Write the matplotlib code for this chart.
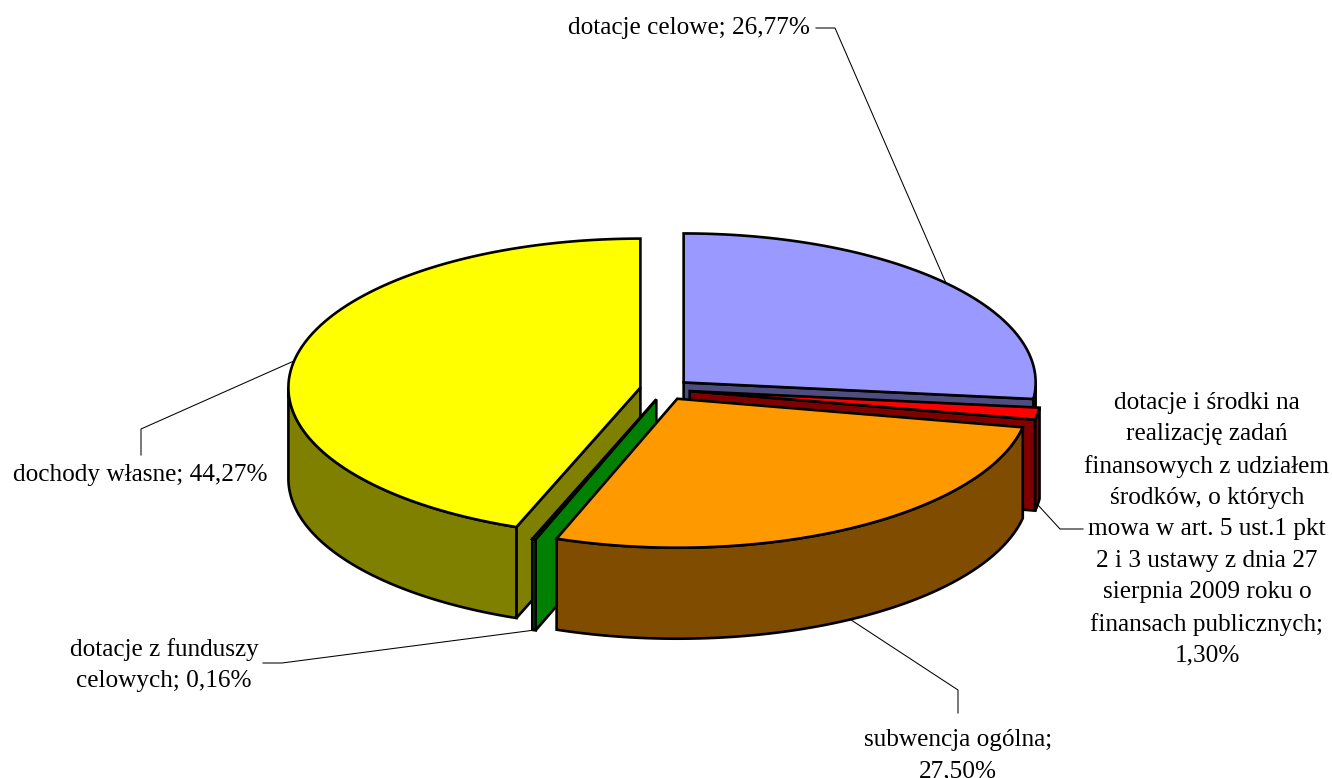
import numpy as np
import matplotlib
matplotlib.use("Agg")
import matplotlib.pyplot as plt
from matplotlib.patches import Polygon

plt.rcParams['font.family'] = ['Liberation Serif', 'DejaVu Sans']

names = ["dotacje celowe", "dotacje i środki", "subwencja ogólna", "dotacje z funduszy", "dochody własne"]
shares = [26.77, 1.30, 27.50, 0.16, 44.27]
top_colors = ["#9999FF", "#FF0000", "#FF9900", "#00FF00", "#FFFF00"]
side_colors = ["#4D4D80", "#800000", "#804D00", "#008000", "#808000"]
draw_order = [0, 4, 1, 3, 2]

labels = [
    "dotacje celowe; 26,77%",
    "dotacje i środki na\nrealizację zadań\nfinansowych z udziałem\nśrodków, o których\nmowa w art. 5 ust.1 pkt\n2 i 3 ustawy z dnia 27\nsierpnia 2009 roku o\nfinansach publicznych;\n1,30%",
    "subwencja ogólna;\n27,50%",
    "dotacje z funduszy\ncelowych; 0,16%",
    "dochody własne; 44,27%",
]

# layout in pixels
CX, CY = 665, 389.5
RX, RY = 352, 149
DEPTH = 91
EXPLODE = 25
LW = 1.9

fig = plt.figure(figsize=(13.32, 7.78), dpi=100)
ax = fig.add_axes([0, 0, 1, 1])
ax.set_xlim(0, 1332)
ax.set_ylim(778, 0)
ax.axis("off")

edges = np.cumsum([0] + shares) * 3.6
starts, ends = edges[:-1], edges[1:]
mids = (starts + ends) / 2


def apex(i):
    m = np.radians(mids[i])
    return CX + EXPLODE * np.sin(m), CY - EXPLODE * RY / RX * np.cos(m)


def rim(i, deg):
    a = np.radians(deg)
    x0, y0 = apex(i)
    return x0 + RX * np.sin(a), y0 - RY * np.cos(a)


def face(pts, color):
    ax.add_patch(Polygon(pts, closed=True, facecolor=color, edgecolor="black",
                         linewidth=LW, joinstyle="miter"))


def wall(i, deg):
    x0, y0 = apex(i)
    x1, y1 = rim(i, deg)
    face([(x0, y0), (x1, y1), (x1, y1 + DEPTH), (x0, y0 + DEPTH)], side_colors[i])


for i in draw_order:
    a0, a1 = starts[i], ends[i]
    if np.sin(np.radians(a0)) < -1e-9:
        wall(i, a0)
    if np.sin(np.radians(a1)) > 1e-9:
        wall(i, a1)
    lo, hi = max(a0, 90), min(a1, 270)
    if hi > lo:
        arc = [rim(i, d) for d in np.linspace(lo, hi, 80)]
        low = [(x, y + DEPTH) for x, y in arc[::-1]]
        face(arc + low, side_colors[i])
    arc = [rim(i, d) for d in np.linspace(a0, a1, 160)]
    face([apex(i)] + arc, top_colors[i])

# leader lines, starting from the middle of each slice's rim
x, y = rim(0, mids[0])
ax.plot([x, 835, 816], [y, 28, 28], color="black", lw=0.75)
x, y = rim(1, mids[1])
ax.plot([x, 1060, 1083], [y + DEPTH, 529, 529], color="black", lw=0.75)
x, y = rim(2, mids[2])
ax.plot([x, 958, 958], [y + DEPTH, 690, 713], color="black", lw=0.75)
x, y = rim(3, mids[3])
ax.plot([x, 282, 263], [y + DEPTH, 663, 663], color="black", lw=0.75)
x, y = rim(4, mids[4])
ax.plot([x, 141, 141], [y, 429, 455], color="black", lw=0.75)

FS = 18.2
SP = 1.54
ax.text(689, 28, labels[0], fontsize=FS, ha="center", va="center")
ax.text(1207, 529.5, labels[1], fontsize=FS, ha="center", va="center", linespacing=SP)
ax.text(958, 755.5, labels[2], fontsize=FS, ha="center", va="center", linespacing=SP)
ax.text(164, 665, labels[3], fontsize=FS, ha="center", va="center", linespacing=SP)
ax.text(140, 475, labels[4], fontsize=FS, ha="center", va="center")

fig.savefig("out.png", dpi=100, facecolor="white")
